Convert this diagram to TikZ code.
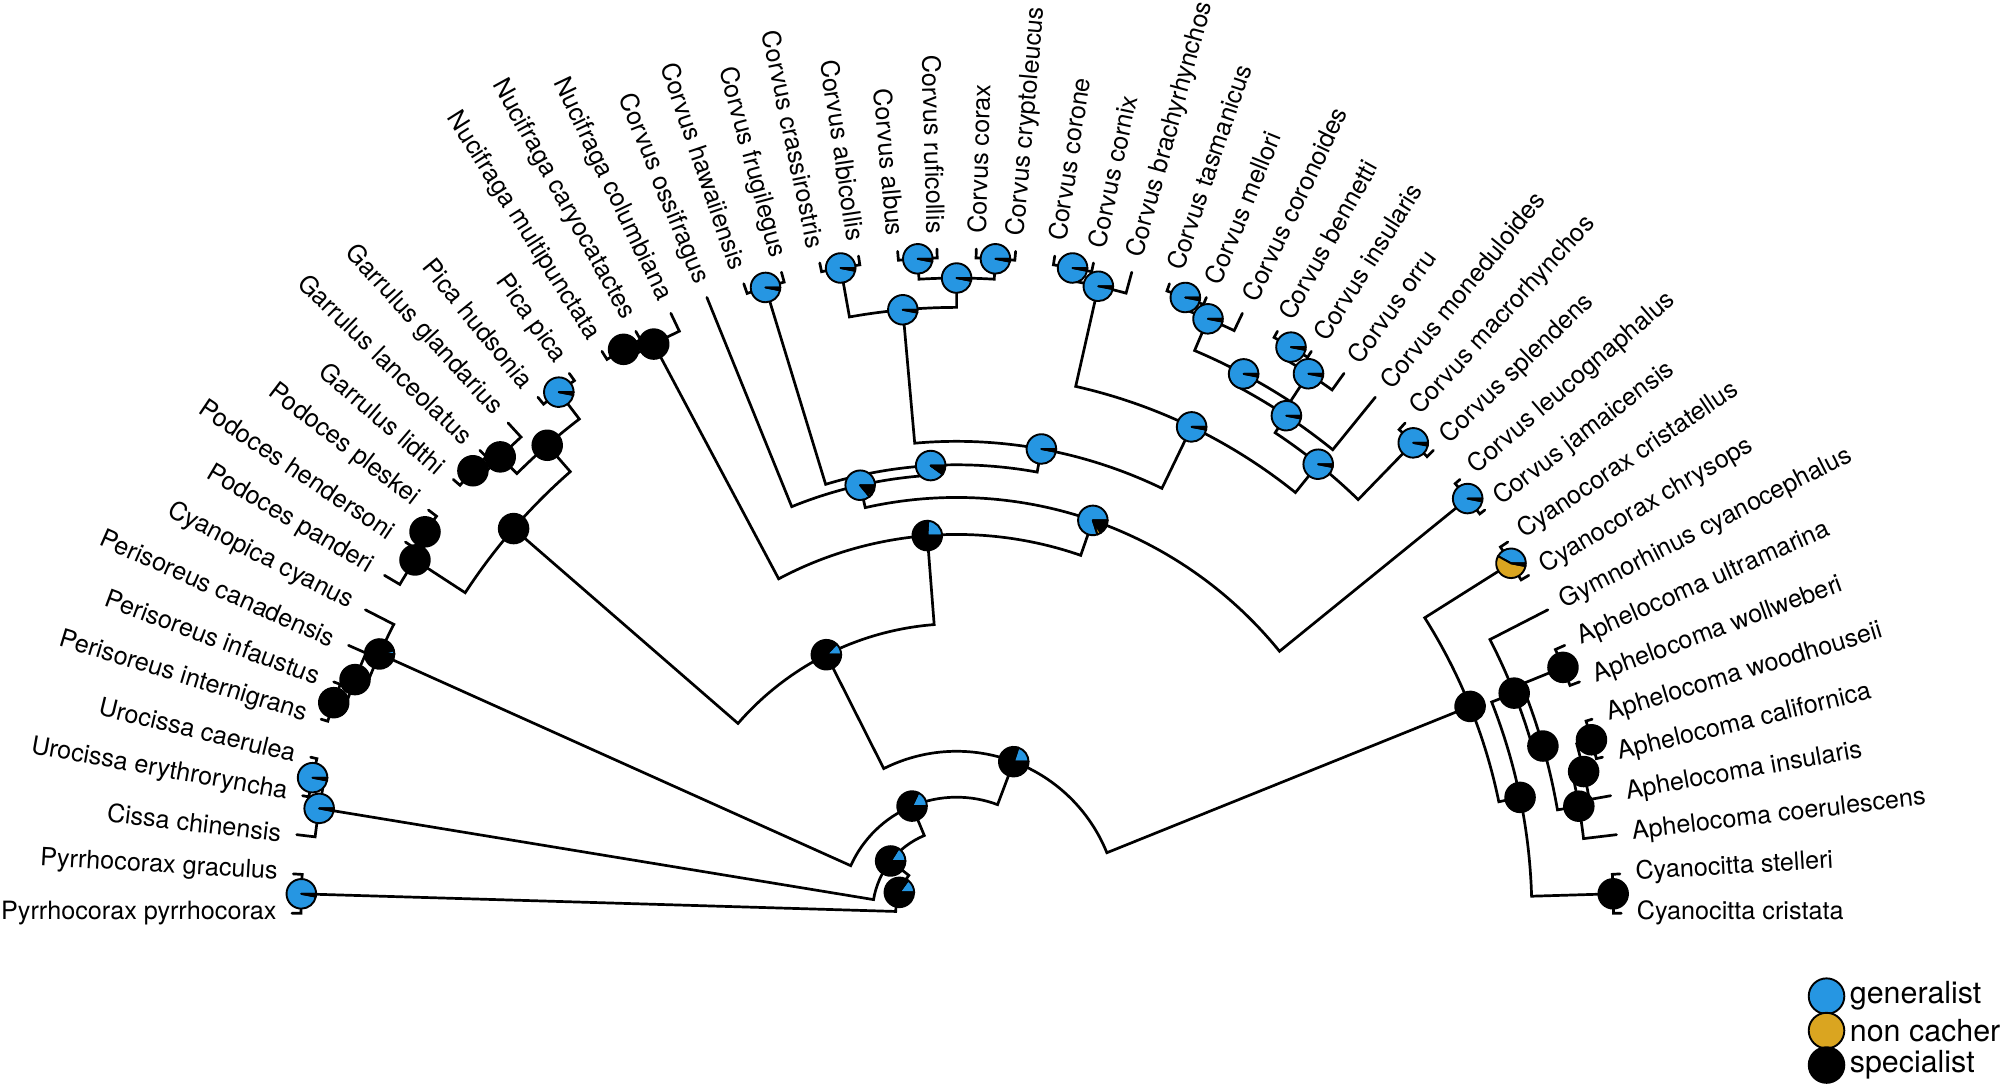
\documentclass[tikz,border=0pt]{standalone}
\usepackage{fontspec}
\setmainfont{TeX Gyre Heros}
\definecolor{gen}{RGB}{38,150,226}
\definecolor{nca}{RGB}{218,165,32}
\def\un{0.63775pt}
\def\pr{7.4pt}
\newcommand\setnode[3]{\expandafter\xdef\csname tA-#1\endcsname{#2}\expandafter\xdef\csname tR-#1\endcsname{#3}\coordinate (#1) at (#2:#3);}
\newcommand\lnk[2]{\draw[br] (#1) arc[start angle=\csname tA-#1\endcsname, end angle=\csname tA-#2\endcsname, radius=\csname tR-#1\endcsname*\un] -- (#2);}
\newcommand\inode[4]{\pgfmathsetmacro\tmpa{(\csname tA-#2\endcsname+\csname tA-#3\endcsname)/2}\setnode{#1}{\tmpa}{#4}\lnk{#1}{#2}\lnk{#1}{#3}}
\newcommand\piec[4]{%
  \pgfmathsetmacro\pa{360*#2}\pgfmathsetmacro\pb{360*(#2+#3)}%
  \ifdim#2pt>0pt \filldraw[piest,fill=gen] (#1) -- ++(0:\pr) arc[start angle=0,end angle=\pa,radius=\pr] -- cycle;\fi
  \ifdim#3pt>0pt \filldraw[piest,fill=nca] (#1) -- ++(\pa:\pr) arc[start angle=\pa,end angle=\pb,radius=\pr] -- cycle;\fi
  \ifdim#4pt>0pt \filldraw[piest,fill=black] (#1) -- ++(\pb:\pr) arc[start angle=\pb,end angle=360,radius=\pr] -- cycle;\fi}
\begin{document}
\begin{tikzpicture}[x=0.63775pt,y=0.63775pt,
  br/.style={line width=1.35pt,line cap=round,line join=miter},
  piest/.style={draw=black,line width=0.95pt,line join=round},
  lab/.style={font=\fontsize{12.6}{14}\selectfont,inner sep=0pt},
  leg/.style={font=\fontsize{15.2}{17}\selectfont,inner sep=0pt}]
\useasboundingbox (-750,-138.57) rectangle (818,716);
% tips and labels
\foreach \nm [count=\i] in {Pyrrhocorax pyrrhocorax,Pyrrhocorax graculus,Cissa chinensis,Urocissa erythroryncha,Urocissa caerulea,Perisoreus internigrans,Perisoreus infaustus,Perisoreus canadensis,Cyanopica cyanus,Podoces panderi,Podoces hendersoni,Podoces pleskei,Garrulus lidthi,Garrulus lanceolatus,Garrulus glandarius,Pica hudsonia,Pica pica,Nucifraga multipunctata,Nucifraga caryocatactes,Nucifraga columbiana,Corvus ossifragus,Corvus hawaiiensis,Corvus frugilegus,Corvus crassirostris,Corvus albicollis,Corvus albus,Corvus ruficollis,Corvus corax,Corvus cryptoleucus,Corvus corone,Corvus cornix,Corvus brachyrhynchos,Corvus tasmanicus,Corvus mellori,Corvus coronoides,Corvus bennetti,Corvus insularis,Corvus orru,Corvus moneduloides,Corvus macrorhynchos,Corvus splendens,Corvus leucognaphalus,Corvus jamaicensis,Cyanocorax cristatellus,Cyanocorax chrysops,Gymnorhinus cyanocephalus,Aphelocoma ultramarina,Aphelocoma wollweberi,Aphelocoma woodhouseii,Aphelocoma californica,Aphelocoma insularis,Aphelocoma coerulescens,Cyanocitta stelleri,Cyanocitta cristata}{
  \pgfmathsetmacro\th{180-(\i-1)*180/53}
  \setnode{t\i}{\th}{521}
  \ifdim\th pt<90pt
    \node[lab,rotate=\th,anchor=west] (l\i) at (\th:533) {\nm};
  \else
    \node[lab,rotate=\th-180,anchor=east] (l\i) at (\th:533) {\nm};
  \fi
}
% internal nodes (children before parents)
\inode{P}{t1}{t2}{514}
\inode{U1}{t4}{t5}{516}
\inode{U2}{t3}{U1}{506.5}
\inode{Pe1}{t6}{t7}{515.5}
\inode{Pe2}{Pe1}{t8}{506}
\inode{Pe3}{Pe2}{t9}{496}
\inode{Po1}{t11}{t12}{513}
\inode{Po2}{t10}{Po1}{507}
\inode{Ga1}{t13}{t14}{514}
\inode{Ga2}{Ga1}{t15}{506}
\inode{Pi}{t16}{t17}{514}
\inode{R}{Ga2}{Pi}{487.5}
\inode{Q}{Po2}{R}{460}
\inode{N1}{t18}{t19}{513.5}
\inode{N2}{N1}{t20}{505.5}
\inode{Co0}{t22}{t23}{513}
\inode{Co1}{t24}{t25}{514}
\inode{Co2}{t26}{t27}{514}
\inode{Co3}{t28}{t29}{514}
\inode{Co4}{Co2}{Co3}{498}
\inode{Co5}{Co1}{Co4}{475}
\inode{Co6}{t30}{t31}{514}
\inode{Co7}{Co6}{t32}{504}
\inode{Co10}{t33}{t34}{515}
\inode{Co11}{Co10}{t35}{506}
\inode{Co12a}{t36}{t37}{515.5}
\inode{Co12}{Co12a}{t38}{505}
\inode{Co13}{Co11}{Co12}{479}
\inode{Co14}{Co13}{t39}{468}
\inode{MS}{t40}{t41}{514}
\inode{Co15}{Co14}{MS}{452}
\inode{Co16}{Co7}{Co15}{423.5}
\inode{Co17}{Co5}{Co16}{370}
\inode{Co18}{Co0}{Co17}{351.6}
\inode{Co19}{t21}{Co18}{344}
\inode{LJ}{t42}{t43}{516}
\inode{Y}{Co19}{LJ}{326}
\inode{C}{N2}{Y}{297}
\inode{D}{Q}{C}{227}
\inode{CC}{t44}{t45}{514}
\inode{nc}{t47}{t48}{513}
\inode{ne}{t49}{t50}{516}
\inode{nf}{ne}{t51}{504}
\inode{ng}{nf}{t52}{495}
\inode{nd}{nc}{ng}{478}
\inode{nb}{t46}{nd}{470}
\inode{ni}{t53}{t54}{515}
\inode{nh}{nb}{ni}{451}
\inode{na}{CC}{nh}{434}
\inode{E}{D}{na}{127}
\inode{F}{Pe3}{E}{91}
\inode{G}{U2}{F}{66}
\inode{H}{P}{G}{47.8}
% pies: generalist, non cacher, specialist
\foreach \n in {P,U1,U2,Pi,Co0,Co1,Co2,Co3,Co4,Co5,Co6,Co7,Co10,Co11,Co12a,Co12,Co13,Co14,MS,Co15,Co16,Co17,LJ}{\piec{\n}{0.97}{0}{0.03}}
\foreach \n in {Pe1,Pe2,Po1,Po2,Ga1,Ga2,R,Q,N1,N2,nb,nc,nd,ne,nf,ng,nh,ni}{\piec{\n}{0}{0}{1}}
\piec{Co18}{0.9}{0.01}{0.09}
\piec{Co19}{0.86}{0.03}{0.11}
\piec{Y}{0.8}{0.04}{0.16}
\piec{C}{0.24}{0.01}{0.75}
\piec{D}{0.13}{0}{0.87}
\piec{E}{0.2}{0}{0.8}
\piec{F}{0.18}{0}{0.82}
\piec{G}{0.16}{0}{0.84}
\piec{H}{0.15}{0}{0.85}
\piec{Pe3}{0.04}{0}{0.96}
\piec{na}{0.02}{0}{0.98}
\piec{CC}{0.42}{0.55}{0.03}
% legend
\filldraw[piest,fill=gen] (682,-65) circle[radius=8.9pt] coordinate (lg1);
\filldraw[piest,fill=nca] (682,-92) circle[radius=8.9pt] coordinate (lg2);
\filldraw[piest,fill=black] (682,-119) circle[radius=8.9pt] coordinate (lg3);
\node[leg,anchor=west] (lt1) at (700,-65) {generalist};
\node[leg,anchor=west] (lt2) at (700,-92) {non cacher};
\node[leg,anchor=west] (lt3) at (700,-119) {specialist};
\end{tikzpicture}
\end{document}
